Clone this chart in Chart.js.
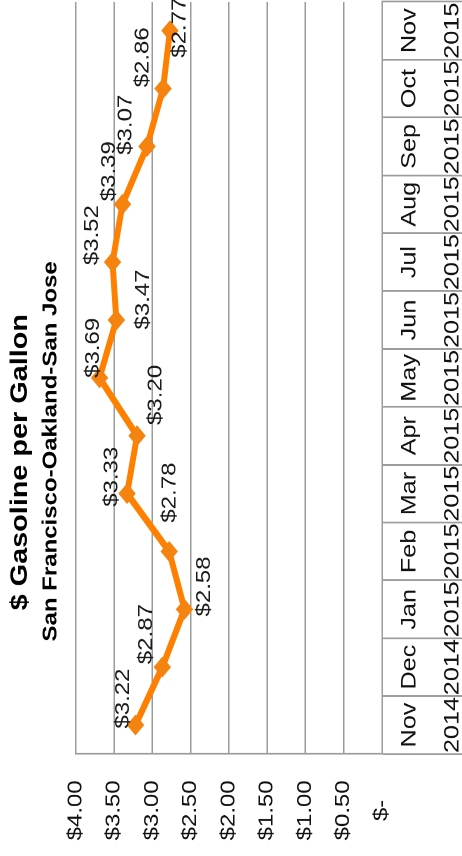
<!DOCTYPE html>
<html>
<head>
<meta charset="utf-8">
<script src="https://cdn.jsdelivr.net/npm/chart.js@4/dist/chart.umd.min.js"></script>
<style>
  html, body { margin: 0; padding: 0; background: #fff; overflow: hidden; }
  body { width: 462px; height: 856px; position: relative; }
  /* the chart is laid out landscape and turned a quarter turn counter-clockwise */
  #frame {
    position: absolute; left: 0; top: 0;
    width: 713px; height: 462px;
    transform-origin: 0 0;
    transform: translate(0, 856px) rotate(-90deg) scaleX(1.2006);
  }
  canvas { display: block; }
</style>
</head>
<body>
<div id="frame"><canvas id="c" width="713" height="462"></canvas></div>
<script>
// Monthly average retail gasoline price, San Francisco-Oakland-San Jose
const months = ['Nov', 'Dec', 'Jan', 'Feb', 'Mar', 'Apr', 'May', 'Jun', 'Jul', 'Aug', 'Sep', 'Oct', 'Nov'];
const years  = ['2014', '2014', '2015', '2015', '2015', '2015', '2015', '2015', '2015', '2015', '2015', '2015', '2015'];
const prices = [3.22, 2.87, 2.58, 2.78, 3.33, 3.20, 3.69, 3.47, 3.52, 3.39, 3.07, 2.86, 2.77];
const priceTicks = [0, 0.5, 1, 1.5, 2, 2.5, 3, 3.5, 4];

const titleText = '$ Gasoline per Gallon';
const subtitleText = 'San Francisco-Oakland-San Jose';

const FONT = '"Liberation Sans", Arial, Helvetica, sans-serif';
const GRID = '#9c9c9c';
const ORANGE = '#FF8000';

const money = v => v === 0 ? '$-' : '$' + v.toFixed(2);

// where each value label sits relative to its marker: [along x, along y]
const labelOffsets = [
  [-3, -12], [2.5, -16], [-6, 20], [24, 1], [-11, -15], [9, 19], [0, -6],
  [-8, 27], [-2.5, -20], [2.5, -13], [-7, -21], [1, -20], [-22.5, 10]
];

const valueLabels = {
  id: 'valueLabels',
  afterDatasetsDraw(chart) {
    const ctx = chart.ctx;
    const meta = chart.getDatasetMeta(0);
    ctx.save();
    ctx.font = '20px ' + FONT;
    ctx.fillStyle = '#1a1a1a';
    ctx.textAlign = 'left';
    ctx.textBaseline = 'middle';
    meta.data.forEach((pt, i) => {
      const [dx, dy] = labelOffsets[i];
      ctx.fillText(money(prices[i]), pt.x + dx, pt.y + dy);
    });
    ctx.restore();
  }
};

// headings sit a little left of the chart centre
const headingCentres = { [titleText]: 328, [subtitleText]: 337 };
const headingPlacement = {
  id: 'headingPlacement',
  afterLayout(chart) {
    chart.boxes.forEach(b => {
      const t = b.options && b.options.text;
      if (typeof t === 'string' && headingCentres[t] !== undefined) {
        const d = headingCentres[t] - (b.left + b.right) / 2;
        b.left += d; b.right += d;
      }
    });
  }
};

new Chart(document.getElementById('c'), {
  type: 'line',
  data: {
    labels: months.map((m, i) => [m, years[i]]),
    datasets: [{
      data: prices,
      borderColor: ORANGE,
      backgroundColor: ORANGE,
      pointBackgroundColor: '#F58310',
      pointBorderColor: '#F58310',
      borderWidth: 6,
      pointStyle: 'rectRot',
      pointRadius: 8,
      pointHoverRadius: 8,
      pointBorderWidth: 1,
      tension: 0,
      clip: false
    }]
  },
  options: {
    responsive: false,
    devicePixelRatio: 2,
    animation: false,
    events: [],
    layout: { autoPadding: false, padding: { left: 0, right: 1.5, top: 0, bottom: 0 } },
    plugins: {
      legend: { display: false },
      tooltip: { enabled: false },
      title: {
        display: true, text: titleText, color: '#000',
        font: { family: FONT, size: 24, weight: 'bold', lineHeight: 1.2 },
        padding: { top: 6, bottom: 0 }
      },
      subtitle: {
        display: true, text: subtitleText, color: '#000',
        font: { family: FONT, size: 20, weight: 'bold', lineHeight: 1.2 },
        padding: { top: 4, bottom: 13 }
      }
    },
    scales: {
      x: {
        type: 'category',
        offset: true,
        grid: { offset: true, drawOnChartArea: false, drawTicks: true, tickLength: 80, color: GRID, lineWidth: 1.5 },
        border: { display: true, color: GRID, width: 1.5 },
        ticks: {
          font: { family: FONT, size: 21, lineHeight: 2.05 },
          color: '#111', padding: -74, maxRotation: 0, minRotation: 0, autoSkip: false
        },
        afterFit(s) { s.height = 80; s.paddingLeft = 0; s.paddingRight = 0; }
      },
      y: {
        min: 0, max: 4,
        afterBuildTicks(s) { s.ticks = priceTicks.map(v => ({ value: v })); },
        grid: { color: GRID, lineWidth: 1.5, drawTicks: false },
        border: { display: true, color: GRID, width: 1.5 },
        ticks: {
          font: { family: FONT, size: 20 }, color: '#111',
          crossAlign: 'center', padding: 22,
          callback: v => money(v)
        },
        afterFit(s) { s.width = 85; }
      }
    }
  },
  plugins: [valueLabels, headingPlacement]
});
</script>
</body>
</html>
